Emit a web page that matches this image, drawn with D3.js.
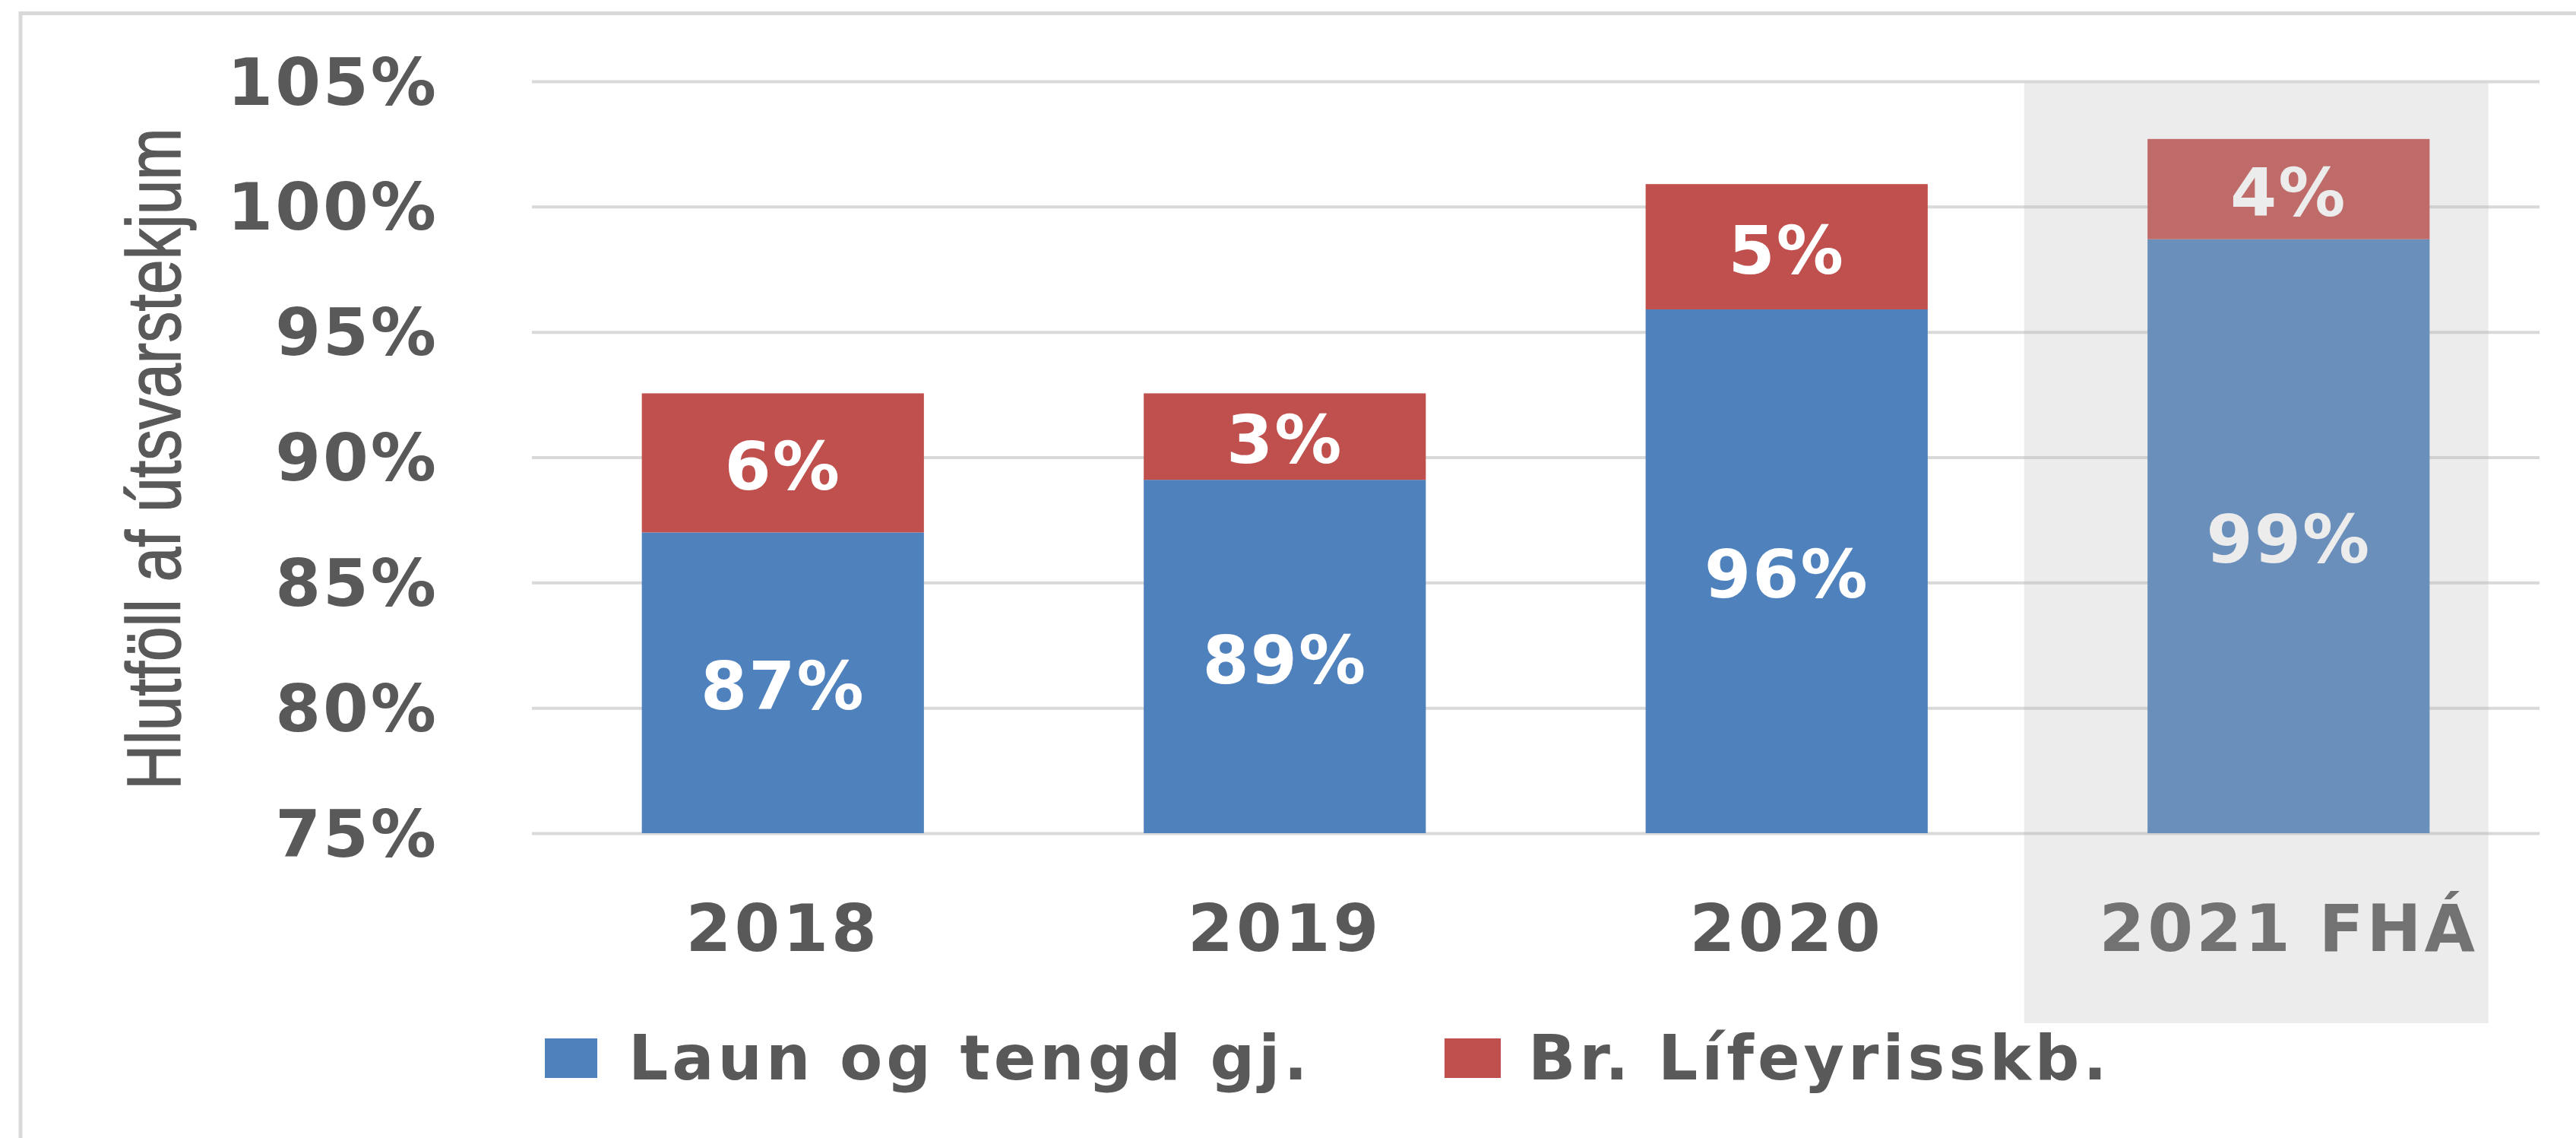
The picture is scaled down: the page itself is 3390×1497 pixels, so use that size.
<!DOCTYPE html>
<html>
<head>
<meta charset="utf-8">
<script src="https://cdn.jsdelivr.net/npm/d3@7"></script>
<style>
  body { margin: 0; background: #fff; }
  svg { display: block; }
</style>
</head>
<body>
<div id="chart"></div>
<script>
// values (percent of útsvar income)
var categories = ["2018", "2019", "2020", "2021 FHÁ"];
var laun = [87.0, 89.1, 95.9, 98.7];
var lifeyrir = [5.55, 3.45, 5.0, 4.0];
var yTicks = [75, 80, 85, 90, 95, 100, 105];
var seriesNames = ["Laun og tengd gj.", "Br. Lífeyrisskb."];
var seriesColors = ["#4f81bd", "#c0504d"];
var highlighted = "2021 FHÁ";
var yTitle = "Hlutföll af útsvarstekjum";

var W = 3390, H = 1497;
var margin = {top: 107, left: 700, right: 48, bottom: 401};
var textColor = "#595959",
    gridColor = "#d9d9d9",
    boldFont = "'DejaVu Sans', Verdana, sans-serif";

var rows = categories.map((c, i) => ({cat: c, laun: laun[i], lifeyrir: lifeyrir[i]}));
var stacked = d3.stack().keys(["laun", "lifeyrir"])(rows);

var svg = d3.select("#chart").append("svg")
    .attr("width", W)
    .attr("height", H);

// outer frame (runs off the right and bottom edge)
svg.append("rect")
  .attr("x", 27).attr("y", 17.5)
  .attr("width", W).attr("height", H)
  .attr("fill", "none")
  .attr("stroke", gridColor)
  .attr("stroke-width", 5);

var x = d3.scaleBand()
  .domain(categories)
  .range([margin.left, W - margin.right])
  .paddingInner(0.438)
  .paddingOuter(0.219);

var y = d3.scaleLinear()
  .domain([75, 105])
  .range([H - margin.bottom, margin.top])
  .clamp(true);

// gridlines
var yAxis = d3.axisLeft(y)
  .tickValues(yTicks)
  .tickSize(-(W - margin.right - margin.left))
  .tickFormat(d => d + "%")
  .tickPadding(123);

var gy = svg.append("g")
  .attr("transform", `translate(${margin.left},0)`)
  .call(yAxis);
gy.select(".domain").remove();
gy.selectAll(".tick line")
  .attr("stroke", gridColor)
  .attr("stroke-width", 4);
gy.selectAll(".tick text")
  .attr("fill", textColor)
  .attr("font-family", boldFont)
  .attr("font-weight", "bold")
  .attr("font-size", 86)
  .attr("letter-spacing", 3)
  .attr("dy", "0.35em");

// stacked bars
var layer = svg.append("g").selectAll("g")
  .data(stacked)
  .enter().append("g")
    .attr("fill", (d, i) => seriesColors[i]);

layer.selectAll("rect")
  .data(d => d)
  .enter().append("rect")
    .attr("x", d => x(d.data.cat))
    .attr("y", d => y(d[1]))
    .attr("width", x.bandwidth())
    .attr("height", d => y(d[0]) - y(d[1]));

layer.selectAll("text")
  .data(d => d)
  .enter().append("text")
    .attr("x", d => x(d.data.cat) + x.bandwidth() / 2)
    .attr("y", d => (y(d[0]) + y(d[1])) / 2)
    .attr("dy", 35)
    .attr("text-anchor", "middle")
    .attr("fill", "#fff")
    .attr("font-family", boldFont)
    .attr("font-weight", "bold")
    .attr("font-size", 88)
    .attr("letter-spacing", 2)
    .text(d => Math.round(d[1] - d[0]) + "%");

// category labels
var xAxis = d3.axisBottom(x).tickSize(0).tickPadding(94);
var gx = svg.append("g")
  .attr("transform", `translate(0,${y(75)})`)
  .call(xAxis);
gx.select(".domain").remove();
gx.selectAll(".tick text")
  .attr("fill", textColor)
  .attr("font-family", boldFont)
  .attr("font-weight", "bold")
  .attr("font-size", 86)
  .attr("letter-spacing", 4);

// y axis title, narrow face imitated with a horizontal squeeze
svg.append("text")
  .attr("transform", `translate(237,${(y(75) + y(105)) / 2 + 2}) rotate(-90) scale(0.82,1)`)
  .attr("text-anchor", "middle")
  .attr("fill", textColor)
  .attr("stroke", textColor)
  .attr("stroke-width", 1.5)
  .attr("font-family", "'Liberation Sans', Arial, sans-serif")
  .attr("font-size", 100)
  .text(yTitle);

// legend
var legendX = [717, 1901];
var legend = svg.append("g").selectAll("g")
  .data(seriesNames)
  .enter().append("g")
    .attr("transform", (d, i) => `translate(${legendX[i]},1366)`);

legend.append("rect")
  .attr("width", (d, i) => i == 0 ? 69 : 74)
  .attr("height", 52)
  .attr("fill", (d, i) => seriesColors[i]);

legend.append("text")
  .attr("x", 110)
  .attr("y", 54)
  .attr("fill", textColor)
  .attr("font-family", boldFont)
  .attr("font-weight", "bold")
  .attr("font-size", 82)
  .attr("letter-spacing", 5)
  .text(d => d);

// forecast year shaded on top of everything
var hx = x(highlighted) + x.bandwidth() / 2;
svg.append("rect")
  .attr("x", hx - 348)
  .attr("y", y(105) + 2)
  .attr("width", 611)
  .attr("height", 1346 - y(105) - 2)
  .attr("fill", "rgb(185,185,185)")
  .attr("fill-opacity", 0.265);
</script>
</body>
</html>
